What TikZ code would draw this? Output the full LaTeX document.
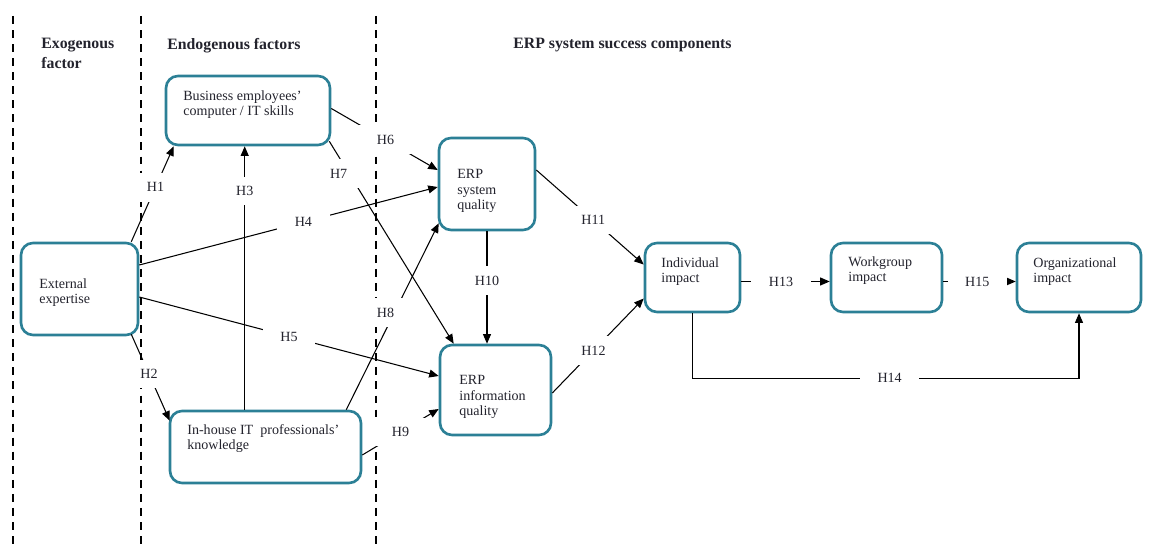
\documentclass[tikz,border=0pt]{standalone}
\usepackage{fontspec}
\setmainfont{Liberation Serif}
\usetikzlibrary{arrows.meta,calc}
\definecolor{boxteal}{RGB}{44,128,150}
\definecolor{inktext}{RGB}{35,35,45}
\tikzset{
  factor/.style={draw=boxteal, line width=1.5pt, rounded corners=12pt*0.567, inner sep=0pt},
  boxtext/.style={anchor=north west, inner sep=0pt, align=left, text=inktext, font=\fontsize{8}{8.8}\selectfont},
  heading/.style={anchor=north west, inner sep=0pt, align=left, text=inktext, font=\fontsize{9}{11.3}\selectfont\bfseries},
  arr/.style={line width=0.6pt, -{Triangle[length=5.4pt,width=4.5pt]}},
  hyp/.style={fill=white, inner xsep=10pt, inner ysep=5.5pt, text=inktext, font=\fontsize{8}{9}\selectfont},
  sep/.style={line width=0.6pt, dash pattern=on 4.5pt off 3.5pt}
}
\begin{document}
\begin{tikzpicture}[x=0.02cm, y=-0.02cm]
  \useasboundingbox (0,0) rectangle (1153,550);

  % column separators
  \draw[sep] (13,16) -- (13,545);
  \draw[sep] (141,16) -- (141,545);
  \draw[sep] (376,16) -- (376,545);

  % headings
  \node[heading] (exo) at (41,38) {Exogenous\\factor};
  \node[heading] (endo) at (167,38) {Endogenous factors};
  \node[heading] (erp) at (513,38) {ERP system success components};

  % boxes
  \node[factor, minimum width=3.28cm, minimum height=1.38cm] (bus) at (248,110.5) {};
  \node[factor, minimum width=2.34cm, minimum height=1.84cm] (ext) at (79.5,289) {};
  \node[factor, minimum width=3.82cm, minimum height=1.44cm] (inh) at (265.5,447) {};
  \node[factor, minimum width=1.92cm, minimum height=1.84cm] (sq) at (487,184) {};
  \node[factor, minimum width=2.22cm, minimum height=1.80cm] (iq) at (495.5,390) {};
  \node[factor, minimum width=1.90cm, minimum height=1.38cm] (ind) at (692.5,277.5) {};
  \node[factor, minimum width=2.22cm, minimum height=1.38cm] (wg) at (886.5,277.5) {};
  \node[factor, minimum width=2.48cm, minimum height=1.38cm] (org) at (1079,277.5) {};

  % box texts
  \node[boxtext] (bus-t) at (183,90) {Business employees'\\computer / IT skills};
  \node[boxtext] (ext-t) at (39,278) {External\\expertise};
  \node[boxtext] (inh-t) at (187,424) {In-house IT~ professionals'\\knowledge};
  \node[boxtext] (sq-t) at (457,169) {ERP\\system\\quality};
  \node[boxtext] (iq-t) at (459,375) {ERP\\information\\quality};
  \node[boxtext] (ind-t) at (661,257) {Individual\\impact};
  \node[boxtext] (wg-t) at (848,256) {Workgroup\\impact};
  \node[boxtext] (org-t) at (1033,257) {Organizational\\impact};

  % hypotheses
  \draw[arr] ($(ext.north east)+(-8,0)$) -- node[hyp, pos=0.57] {H1} ($(bus.south west)+(9,0)$);
  \draw[arr] ($(ext.south east)+(-8,-2)$) -- node[hyp, pos=0.46] {H2} ($(inh.north west)+(1,11)$);
  \draw[arr] ($(inh.north west)+(76,0)$) coordinate (h3) -- node[hyp, pos=0.83] {H3} (h3 |- bus.south);
  \draw[arr] ($(ext.east)+(0,-24)$) -- node[hyp, pos=0.55] {H4} ($(sq.west)+(0,3)$);
  \draw[arr] ($(ext.east)+(0,8)$) -- node[hyp, pos=0.50] {H5} ($(iq.west)+(0,-14)$);
  \draw[arr] ($(bus.east)+(0,-2)$) -- node[hyp, pos=0.51] {H6} ($(sq.west)+(0,-14)$);
  \draw[arr] ($(bus.south east)+(-2,-5)$) -- node[hyp, pos=0.16, xshift=-6pt] {H7} ($(iq.north west)+(15,0)$);
  \draw[arr] ($(inh.north east)+(-16,0)$) -- node[hyp, pos=0.52, xshift=-5pt] {H8} ($(sq.south west)+(1,-8)$);
  \draw[arr] ($(inh.east)+(0,8)$) -- node[hyp, pos=0.50] {H9} ($(iq.west)+(0,19)$);
  \draw[arr] (sq.south) -- node[hyp, pos=0.44] {H10} (sq.south |- iq.north);
  \draw[arr] ($(sq.east)+(0,-14)$) -- node[hyp, pos=0.53] {H11} ($(ind.west)+(0,-13)$);
  \draw[arr] ($(iq.east)+(0,3)$) -- node[hyp, pos=0.45] {H12} ($(ind.west)+(0,21)$);
  \draw[arr] ($(ind.east)+(0,4)$) coordinate (h13) -- node[hyp, pos=0.45] {H13} (h13 -| wg.west);
  \draw[arr] ($(wg.east)+(0,4)$) coordinate (h15) -- node[hyp, pos=0.47] {H15} (h15 -| org.west);
  \draw[arr] (ind.south) -- ++(0,65) coordinate (h14) -- node[hyp, pos=0.51] {H14} (h14 -| org.south) -- (org.south);
\end{tikzpicture}
\end{document}
